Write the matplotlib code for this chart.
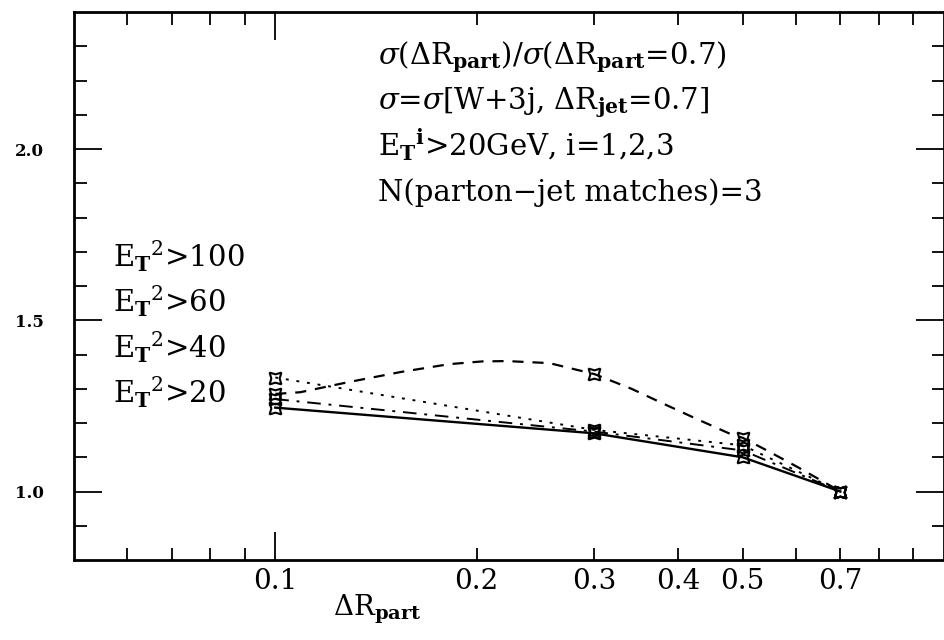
import matplotlib
matplotlib.use("Agg")
import matplotlib.pyplot as plt
from matplotlib.ticker import NullFormatter, FixedLocator, FixedFormatter

plt.rcParams['font.family'] = 'DejaVu Serif'
plt.rcParams['mathtext.fontset'] = 'dejavuserif'

# data
dR = [0.1, 0.3, 0.5, 0.7]
r_solid = [1.245, 1.17, 1.10, 1.0]
r_dash = [1.285, 1.343, 1.157, 1.0]
r_dashdot = [1.27, 1.175, 1.12, 1.0]
r_dot = [1.333, 1.18, 1.135, 1.0]

# path of the smooth dashed curve
dash_x = [0.1, 0.109, 0.129, 0.154, 0.182, 0.204, 0.222, 0.257, 0.3, 0.341, 0.384, 0.43, 0.482, 0.5, 0.541, 0.606, 0.679, 0.7]
dash_y = [1.285, 1.29, 1.32, 1.349, 1.372, 1.38, 1.381, 1.375, 1.343, 1.30, 1.253, 1.209, 1.166, 1.157, 1.122, 1.07, 1.015, 1.0]

cut_labels = [r'E$_\mathbf{T}$$^2$>100', r'E$_\mathbf{T}$$^2$>60', r'E$_\mathbf{T}$$^2$>40', r'E$_\mathbf{T}$$^2$>20']
info_lines = [r'$\sigma$($\Delta$R$_\mathbf{part}$)/$\sigma$($\Delta$R$_\mathbf{part}$=0.7)',
              r'$\sigma$=$\sigma$[W+3j, $\Delta$R$_\mathbf{jet}$=0.7]',
              r'E$_\mathbf{T}$$^\mathbf{i}$>20GeV, i=1,2,3',
              'N(parton\u2212jet matches)=3']

fig = plt.figure(figsize=(9.45, 6.4), dpi=100)
ax = fig.add_axes([0.0783, 0.125, 0.9206, 0.856])

star = (4, 1, 45)
mk = dict(marker=star, markersize=12, color='black', fillstyle='none', markeredgewidth=1.5)

ax.plot(dR, r_solid, '-', lw=1.7, **mk)
ax.plot(dash_x, dash_y, color='black', lw=1.6, dashes=(5, 4))
ax.plot(dR, r_dash, ls='none', **mk)
ax.plot(dR, r_dashdot, lw=1.4, dashes=(7, 4, 1.5, 4), **mk)
ax.plot(dR, r_dot, lw=1.4, dashes=(1.5, 4), **mk)

ax.set_xscale('log')
ax.set_xlim(0.05, 1.0)
ax.set_ylim(0.8, 2.4)

ax.xaxis.set_major_locator(FixedLocator([0.1]))
ax.xaxis.set_major_formatter(FixedFormatter(['0.1']))
minor_x = [0.06, 0.07, 0.08, 0.09, 0.2, 0.3, 0.4, 0.5, 0.6, 0.7, 0.8, 0.9]
minor_lab = ['', '', '', '', '0.2', '0.3', '0.4', '0.5', '', '0.7', '', '']
ax.xaxis.set_minor_locator(FixedLocator(minor_x))
ax.xaxis.set_minor_formatter(FixedFormatter(minor_lab))
ax.set_yticks([1.0, 1.5, 2.0])
ax.set_yticks([0.9, 1.1, 1.2, 1.3, 1.4, 1.6, 1.7, 1.8, 1.9, 2.1, 2.2, 2.3], minor=True)
ax.yaxis.set_minor_formatter(NullFormatter())

ax.tick_params(which='both', direction='in', top=True, right=True, width=1.3, colors='black')
ax.tick_params(which='major', length=20)
ax.tick_params(which='minor', length=9)
ax.tick_params(axis='x', which='both', labelsize=20, pad=6)
ax.tick_params(axis='y', which='major', labelsize=12, pad=22)
for t in ax.get_yticklabels():
    t.set_fontweight('bold')
for s in ax.spines.values():
    s.set_linewidth(2)

ax.set_xlabel(r'$\Delta$R$_\mathbf{part}$', fontsize=20)
ax.xaxis.set_label_coords(0.348, -0.06)

for i, line in enumerate(info_lines):
    ax.text(0.349, 0.905 - i * 0.083, line, transform=ax.transAxes, fontsize=21, va='baseline')
for i, lab in enumerate(cut_labels):
    ax.text(0.045, 0.535 - i * 0.083, lab, transform=ax.transAxes, fontsize=21, va='baseline')

fig.savefig('out.png', dpi=100)
